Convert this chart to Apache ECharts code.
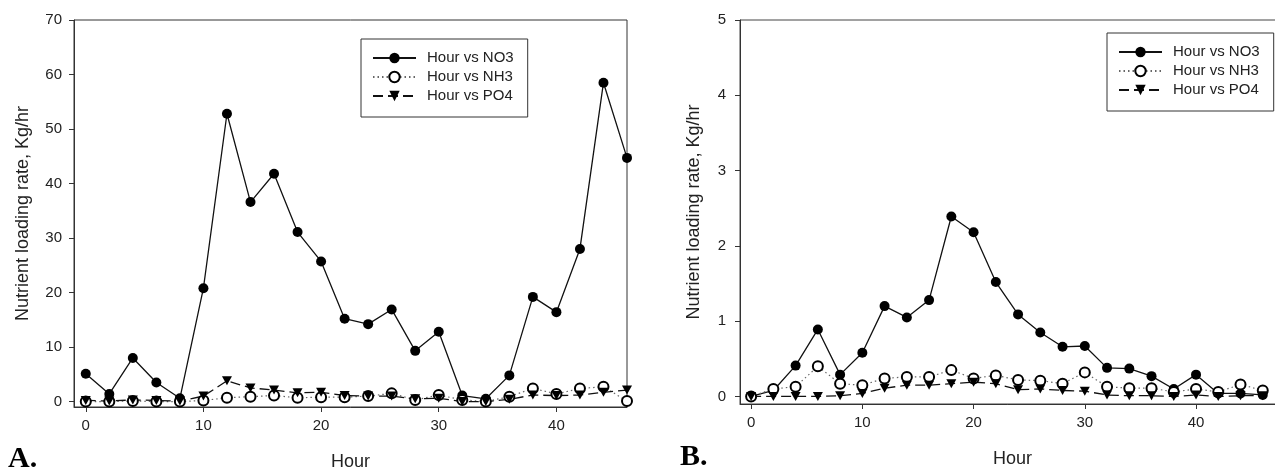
<!DOCTYPE html>
<html>
<head>
<meta charset="utf-8">
<style>
  html, body { margin: 0; padding: 0; background: #fff; }
  #chart { width: 1275px; height: 471px; }
</style>
<script src="https://cdn.jsdelivr.net/npm/echarts@6/dist/echarts.min.js"></script>
</head>
<body>
<div id="chart"></div>
<script>
  // hours sampled every 2 h
  var hours = [0, 2, 4, 6, 8, 10, 12, 14, 16, 18, 20, 22, 24, 26, 28, 30, 32, 34, 36, 38, 40, 42, 44, 46];

  // panel A
  var no3A = [5.1, 1.4, 8.0, 3.5, 0.6, 20.8, 52.8, 36.6, 41.8, 31.1, 25.7, 15.2, 14.2, 16.9, 9.3, 12.8, 1.1, 0.5, 4.8, 19.2, 16.4, 28.0, 58.5, 44.7];
  var nh3A = [0.0, 0.0, 0.1, 0.0, 0.0, 0.2, 0.7, 0.9, 1.1, 0.7, 0.8, 0.8, 1.0, 1.5, 0.3, 1.2, 0.3, 0.0, 0.9, 2.4, 1.4, 2.4, 2.7, 0.1];
  var po4A = [0.2, 0.1, 0.3, 0.2, 0.1, 1.0, 3.8, 2.5, 2.1, 1.6, 1.7, 1.1, 1.0, 1.0, 0.5, 0.6, 0.0, 0.0, 0.4, 1.2, 1.1, 1.2, 1.7, 2.1];

  // panel B
  var no3B = [0.0, 0.08, 0.41, 0.89, 0.29, 0.58, 1.20, 1.05, 1.28, 2.39, 2.18, 1.52, 1.09, 0.85, 0.66, 0.67, 0.38, 0.37, 0.27, 0.10, 0.29, 0.04, 0.04, 0.02];
  var nh3B = [0.0, 0.10, 0.13, 0.40, 0.17, 0.15, 0.24, 0.26, 0.26, 0.35, 0.24, 0.28, 0.22, 0.21, 0.17, 0.32, 0.13, 0.11, 0.11, 0.06, 0.10, 0.06, 0.16, 0.08];
  var po4B = [0.0, 0.0, 0.0, 0.0, 0.01, 0.04, 0.11, 0.15, 0.15, 0.17, 0.19, 0.17, 0.09, 0.10, 0.08, 0.07, 0.02, 0.01, 0.01, 0.0, 0.02, 0.0, 0.01, 0.01];

  var xTicks = [0, 10, 20, 30, 40];
  var yTicksA = [0, 10, 20, 30, 40, 50, 60, 70];
  var yTicksB = [0, 1, 2, 3, 4, 5];
  var names = ["Hour vs NO3", "Hour vs NH3", "Hour vs PO4"];

  var font = "Liberation Sans";
  var ink = "#222";

  function pairs(vals) {
    return hours.map(function (h, i) { return [h, vals[i]]; });
  }

  function xAxisFor(idx, max) {
    return {
      type: "value", gridIndex: idx, min: -1, max: max,
      name: "Hour", nameLocation: "middle", nameGap: 46,
      nameTextStyle: { fontSize: 18, color: ink, fontFamily: font },
      axisLine: { show: true, onZero: false, lineStyle: { color: "#333", width: 1 } },
      axisTick: { show: true, length: 5, customValues: xTicks, lineStyle: { color: "#333" } },
      axisLabel: { customValues: xTicks, margin: 11, fontSize: 15, color: ink, fontFamily: font },
      splitLine: { show: false }
    };
  }

  function yAxisFor(idx, min, max, ticks, gap, margin) {
    return {
      type: "value", gridIndex: idx, min: min, max: max,
      name: "Nutrient loading rate, Kg/hr", nameLocation: "middle", nameGap: gap,
      nameTextStyle: { fontSize: 18, color: ink, fontFamily: font },
      axisLine: { show: true, onZero: false, lineStyle: { color: "#333", width: 1 } },
      axisTick: { show: true, length: 5, customValues: ticks, lineStyle: { color: "#333" } },
      axisLabel: { customValues: ticks, margin: margin, fontSize: 15, color: ink, fontFamily: font },
      splitLine: { show: false }
    };
  }

  function seriesFor(idx, no3, nh3, po4) {
    return [
      {
        name: names[0], type: "line", xAxisIndex: idx, yAxisIndex: idx,
        data: pairs(no3), symbol: "circle", symbolSize: 10,
        itemStyle: { color: "#000" },
        lineStyle: { color: "#111", width: 1.3 }
      },
      {
        name: names[1], type: "line", xAxisIndex: idx, yAxisIndex: idx,
        data: pairs(nh3), symbol: "emptyCircle", symbolSize: 10,
        itemStyle: { color: "#000", borderWidth: 1.2 },
        lineStyle: { color: "#666", width: 1.2, type: [1.5, 3] }
      },
      {
        name: names[2], type: "line", xAxisIndex: idx, yAxisIndex: idx,
        data: pairs(po4), symbol: "triangle", symbolRotate: 180, symbolSize: [10, 9],
        itemStyle: { color: "#000" },
        lineStyle: { color: "#111", width: 1.3, type: [10, 5] }
      }
    ];
  }

  function legendFor(left, top) {
    return {
      data: names, orient: "vertical", left: left, top: top,
      padding: [11, 14, 13, 11], itemGap: 3, itemWidth: 43, itemHeight: 13,
      borderColor: "#333", borderWidth: 1,
      selectedMode: false,
      textStyle: { fontSize: 15, lineHeight: 16, color: ink, fontFamily: font, padding: [0, 0, 0, 6] }
    };
  }

  var option = {
    animation: false,
    backgroundColor: "#fff",
    title: [
      { text: "A.", left: 8, top: 444, padding: 0,
        textStyle: { fontFamily: "Liberation Serif", fontWeight: "bold", fontSize: 30, color: "#000" } },
      { text: "B.", left: 680, top: 442, padding: 0,
        textStyle: { fontFamily: "Liberation Serif", fontWeight: "bold", fontSize: 30, color: "#000" } }
    ],
    legend: [legendFor(361, 39), legendFor(1107, 33)],
    grid: [
      { left: 74, top: 20, width: 553, height: 387, outerBoundsMode: "none",
        show: true, borderColor: "#333", borderWidth: 1, backgroundColor: "transparent" },
      { left: 740, top: 20, width: 545, height: 384, outerBoundsMode: "none",
        show: true, borderColor: "#444", borderWidth: 1, backgroundColor: "transparent" }
    ],
    xAxis: [xAxisFor(0, 46), xAxisFor(1, 48)],
    yAxis: [yAxisFor(0, -1, 70, yTicksA, 42, 12), yAxisFor(1, -0.1, 5, yTicksB, 37, 14)],
    series: seriesFor(0, no3A, nh3A, po4A).concat(seriesFor(1, no3B, nh3B, po4B))
  };

  var chart = echarts.init(document.getElementById("chart"));
  chart.setOption(option);
</script>
</body>
</html>
